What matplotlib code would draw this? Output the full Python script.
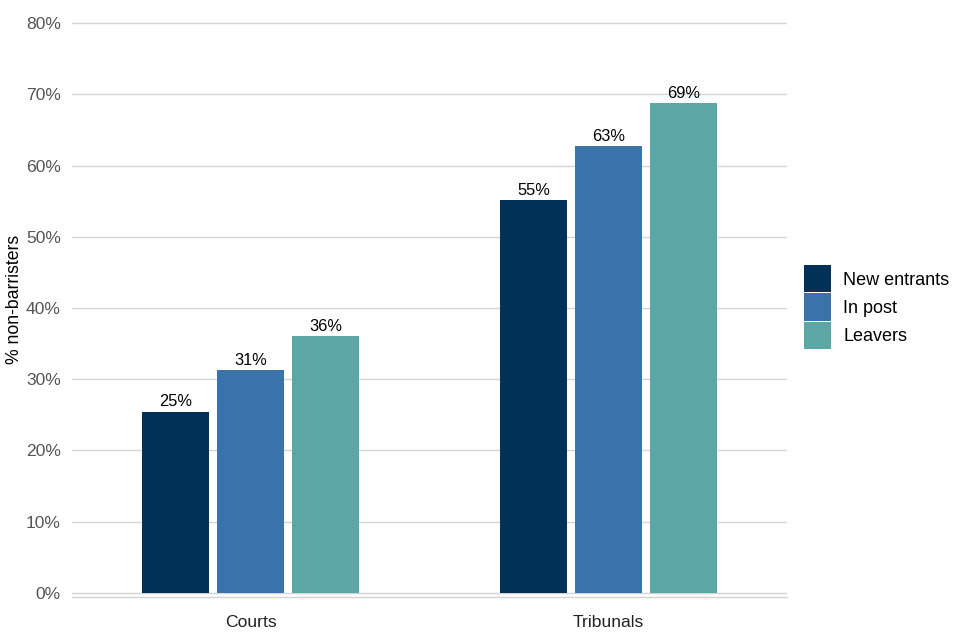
import matplotlib.pyplot as plt
import numpy as np

plt.rcParams['font.family'] = ['Liberation Sans', 'DejaVu Sans']

# data
categories = ['Courts', 'Tribunals']
series = ['New entrants', 'In post', 'Leavers']
new_entrants = [25.45, 55.2]
in_post = [31.3, 62.75]
leavers = [36.1, 68.8]
colours = ['#023158', '#3A73AA', '#5BA7A5']
y_ticks = [0, 10, 20, 30, 40, 50, 60, 70, 80]

values = [new_entrants, in_post, leavers]

fig = plt.figure(figsize=(9.6, 6.4), dpi=100)
ax = fig.add_axes([0.075, 0.0667, 0.7448, 0.9025])

x = np.arange(1, len(categories) + 1)
width = 0.187
step = 0.2095

for i, (vals, name, col) in enumerate(zip(values, series, colours)):
    pos = x + (i - 1) * step
    bars = ax.bar(pos, vals, width=width, color=col, label=name, zorder=3)
    for b, v in zip(bars, vals):
        ax.annotate(f'{round(v)}%', (b.get_x() + b.get_width() / 2, v),
                    xytext=(0, 1.5), textcoords='offset points',
                    ha='center', va='bottom', fontsize=11.8, color='black', zorder=4)

# gridlines
for t in y_ticks:
    ax.axhline(t, color='#d4d4d4', linewidth=1.0, zorder=1)

ax.set_xlim(0.5, 2.5)
ax.set_ylim(-0.65, 80.5)
ax.set_xticks(x)
ax.set_xticklabels(categories, fontsize=12.6, color='#222222')
ax.set_yticks(y_ticks)
ax.set_yticklabels([f'{t}%' for t in y_ticks], fontsize=12.6, color='#555555')
ax.tick_params(axis='both', length=0)
ax.tick_params(axis='y', pad=8)
ax.tick_params(axis='x', pad=13)

for s in ['top', 'right', 'left']:
    ax.spines[s].set_visible(False)
ax.spines['bottom'].set_color('#d4d4d4')
ax.spines['bottom'].set_linewidth(1.0)

ax.set_ylabel('% non-barristers', fontsize=12.7, color='black')
ax.yaxis.set_label_coords(-0.068, 0.515)

fig.legend(loc='center left', bbox_to_anchor=(0.8375, 0.5203), frameon=False,
           fontsize=13, handlelength=1.5, handleheight=1.93, handletextpad=0.67,
           labelspacing=0.06, borderpad=0, borderaxespad=0)

fig.savefig('out.png', dpi=100)
